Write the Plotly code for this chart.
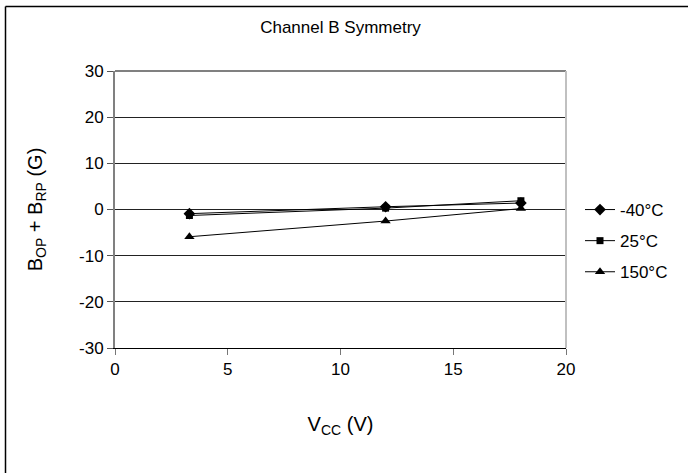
import plotly.graph_objects as go

vcc = [3.3, 12, 18]
series_names = ["-40°C", "25°C", "150°C"]
sym_m40 = [-0.9, 0.6, 1.4]
sym_25 = [-1.3, 0.3, 1.9]
sym_150 = [-5.9, -2.5, 0.2]
x_ticks = [0, 5, 10, 15, 20]
y_ticks = [-30, -20, -10, 0, 10, 20, 30]
y_tick_labels = ["-30", "-20", "-10", "0", "10", "20", "30"]

symbols = ["diamond", "square", "triangle-up"]
sizes = [9, 7, 9]
values = [sym_m40, sym_25, sym_150]

W, H = 688, 473
L, R, T, B = 115, 122, 71, 125

fig = go.Figure()
for i, (name, ys) in enumerate(zip(series_names, values)):
    fig.add_trace(go.Scatter(
        x=vcc, y=ys, name=name, mode="lines+markers",
        line=dict(color="black", width=1),
        marker=dict(symbol=symbols[i], size=sizes[i], color="black"),
        legendgroup=f"g{i}",
    ))

font = "Liberation Sans, Arial, sans-serif"
fig.update_layout(
    width=W, height=H,
    margin=dict(l=L, r=R, t=T, b=B),
    paper_bgcolor="white", plot_bgcolor="white",
    font=dict(family=font, size=17, color="black"),
    title=dict(text="Channel B Symmetry", x=0.5, xref="paper", xanchor="center",
               y=1 - 27 / H, yanchor="middle", font=dict(size=17)),
    showlegend=True,
    legend=dict(x=1 + (580 - (W - R)) / (W - L - R), xanchor="left",
                y=1 - (192 - T) / (H - T - B), yanchor="top",
                font=dict(size=17), tracegroupgap=6, bgcolor="rgba(0,0,0,0)",
                itemwidth=30),
    xaxis=dict(range=[0, 20], tickvals=x_ticks, showgrid=False, zeroline=False,
               showline=True, linecolor="black", linewidth=1, mirror=False,
               ticks="outside", ticklen=6, tickcolor="#777777",
               title=dict(text="V<sub>CC</sub> (V)", standoff=38)),
    yaxis=dict(range=[-30, 30], tickvals=y_ticks, ticktext=y_tick_labels,
               showgrid=True, gridcolor="#222222",
               gridwidth=1, zeroline=False, showline=True, linecolor="#808080",
               linewidth=2, ticks="outside", ticklen=6, tickcolor="#555555",
               title=dict(text="B<sub>OP</sub> + B<sub>RP</sub> (G)", standoff=31)),
)

# plot area top border (gray) and right border (light gray)
fig.add_shape(type="line", xref="paper", yref="paper", x0=0, x1=1, y0=1, y1=1,
              line=dict(color="#808080", width=2))
fig.add_shape(type="line", xref="paper", yref="paper", x0=1, x1=1, y0=0, y1=1,
              line=dict(color="#c0c0c0", width=2))

# outer frame (top and left edges visible)
pw, ph = W - L - R, H - T - B
fx = (5.5 - L) / pw
fy = 1 + (T - 6.5) / ph
fig.add_shape(type="line", xref="paper", yref="paper", x0=fx, x1=3, y0=fy, y1=fy,
              line=dict(color="black", width=1.5))
fig.add_shape(type="line", xref="paper", yref="paper", x0=fx, x1=fx, y0=-3, y1=fy,
              line=dict(color="black", width=1.5))

fig.write_html("out.html", config={"displayModeBar": False},
               post_script="document.body.style.margin='0px';")
